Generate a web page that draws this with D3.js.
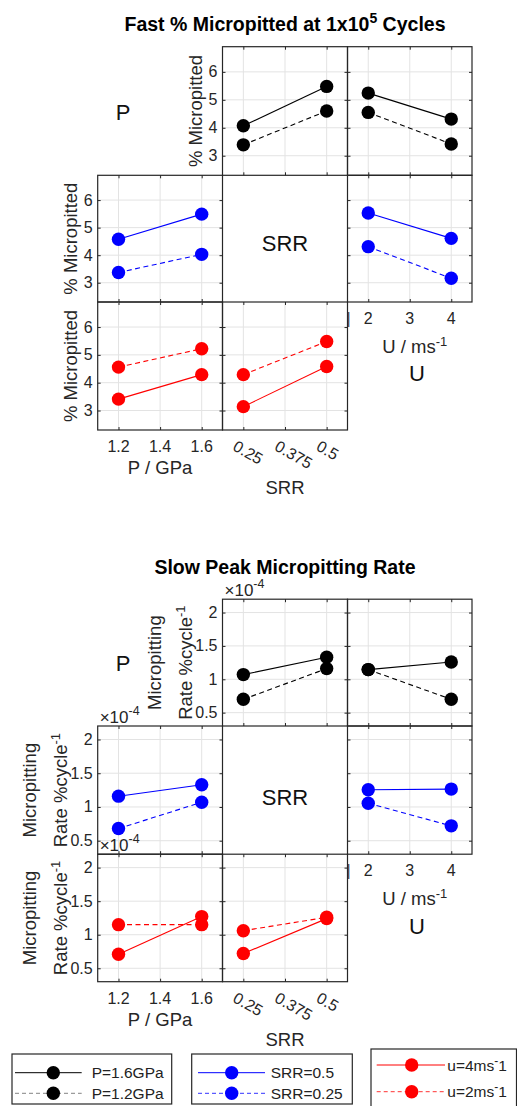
<!DOCTYPE html>
<html><head><meta charset="utf-8">
<script src="https://cdn.jsdelivr.net/npm/d3@7"></script>
<style>body{margin:0;background:#fff}svg{display:block}text{font-family:"Liberation Sans",Arial,sans-serif}</style>
</head><body><div id="c"></div>
<script>
// ---- data ----
const pLevels = [1.2, 1.6];
const srrLevels = [0.25, 0.5];
const uLevels = [2, 4];
const pTicks = [1.2, 1.4, 1.6];
const srrTicks = [0.25, 0.375, 0.5];
const uTicks = [2, 3, 4];
const fastYTicks = [3, 4, 5, 6];
const slowYTicks = [0.5e-4, 1e-4, 1.5e-4, 2e-4];

// Fast % micropitted at 1e5 cycles
const fastP16_vsSRR = [4.07, 5.48], fastP12_vsSRR = [3.39, 4.60];
const fastP16_vsU = [5.24, 4.31], fastP12_vsU = [4.55, 3.42];
const fastSRR05_vsP = [4.58, 5.49], fastSRR025_vsP = [3.37, 4.03];
const fastSRR05_vsU = [5.53, 4.61], fastSRR025_vsU = [4.31, 3.16];
const fastU4_vsP = [3.41, 4.29], fastU2_vsP = [4.56, 5.22];
const fastU4_vsSRR = [3.14, 4.58], fastU2_vsSRR = [4.29, 5.48];

// Slow peak micropitting rate (%/cycle)
const slowP16_vsSRR = [1.07e-4, 1.33e-4], slowP12_vsSRR = [0.70e-4, 1.16e-4];
const slowP16_vsU = [1.145e-4, 1.26e-4], slowP12_vsU = [1.145e-4, 0.70e-4];
const slowSRR05_vsP = [1.16e-4, 1.33e-4], slowSRR025_vsP = [0.68e-4, 1.07e-4];
const slowSRR05_vsU = [1.255e-4, 1.265e-4], slowSRR025_vsU = [1.055e-4, 0.72e-4];
const slowU4_vsP = [0.71e-4, 1.27e-4], slowU2_vsP = [1.15e-4, 1.15e-4];
const slowU4_vsSRR = [0.72e-4, 1.24e-4], slowU2_vsSRR = [1.06e-4, 1.26e-4];

const diagLabels = ["P", "SRR", "U"];
const legendP = ["P=1.6GPa", "P=1.2GPa"];
const legendSRR = ["SRR=0.5", "SRR=0.25"];
const legendU = ["u=4ms", "u=2ms"];

// ---- layout ----
const W = 517, H = 1106;
const colX = [97.7, 222.5, 347.5, 472];
const BLACK = "#000", BLUE = "#0000ff", RED = "#ff0000";
const AX = "#262626", GRID = "#e3e3e3";
const TICKF = 16, LABF = 18.5;

const svg = d3.select("#c").append("svg").attr("width", W).attr("height", H);
svg.append("rect").attr("width", W).attr("height", H).attr("fill", "#fff");

const xInfo = {
  p: {domain: [1.1, 1.7], levels: pLevels, ticks: pTicks},
  srr: {domain: [0.1875, 0.5625], levels: srrLevels, ticks: srrTicks},
  u: {domain: [1.5, 4.5], levels: uLevels, ticks: uTicks}
};
const colVar = ["p", "srr", "u"];

function drawChart(cfg) {
  const rows = cfg.rows;
  const g = svg.append("g");
  const xs = colVar.map((v, i) => d3.scaleLinear().domain(xInfo[v].domain).range([colX[i], colX[i + 1]]));
  const ysc = [0, 1, 2].map(r => d3.scaleLinear().domain(cfg.yDomain).range([rows[r + 1], rows[r]]));

  // title
  const t = g.append("text").attr("x", 285).attr("y", cfg.titleY).attr("text-anchor", "middle")
    .attr("font-size", 19.5).attr("font-weight", "bold").attr("fill", "#000");
  cfg.title(t);

  // panels
  cfg.panels.forEach(pn => {
    const x = xs[pn.col], y = ysc[pn.row];
    const info = xInfo[colVar[pn.col]];
    const pg = g.append("g");
    const [x0, x1] = x.range();
    const [yb, yt] = y.range();
    // grid
    pg.selectAll(".gx").data(info.ticks).join("line")
      .attr("x1", d => x(d)).attr("x2", d => x(d)).attr("y1", yt).attr("y2", yb)
      .attr("stroke", GRID).attr("stroke-width", 1);
    pg.selectAll(".gy").data(cfg.yTicks).join("line")
      .attr("y1", d => y(d)).attr("y2", d => y(d)).attr("x1", x0).attr("x2", x1)
      .attr("stroke", GRID).attr("stroke-width", 1);
    // axes with inward ticks (all sides)
    const tl = 3;
    pg.append("g").attr("transform", `translate(0,${yt})`)
      .call(d3.axisBottom(x).tickValues(info.ticks).tickSize(tl).tickFormat(""))
      .call(a => a.select(".domain").remove()).selectAll("line").attr("stroke", AX);
    pg.append("g").attr("transform", `translate(0,${yb})`)
      .call(d3.axisTop(x).tickValues(info.ticks).tickSize(tl).tickFormat(""))
      .call(a => a.select(".domain").remove()).selectAll("line").attr("stroke", AX);
    pg.append("g").attr("transform", `translate(${x0},0)`)
      .call(d3.axisRight(y).tickValues(cfg.yTicks).tickSize(tl).tickFormat(""))
      .call(a => a.select(".domain").remove()).selectAll("line").attr("stroke", AX);
    pg.append("g").attr("transform", `translate(${x1},0)`)
      .call(d3.axisLeft(y).tickValues(cfg.yTicks).tickSize(tl).tickFormat(""))
      .call(a => a.select(".domain").remove()).selectAll("line").attr("stroke", AX);
    // series
    const line = d3.line().x((d, i) => x(info.levels[i])).y(d => y(d));
    pn.series.forEach(s => {
      pg.append("path").datum(s.vals).attr("d", line).attr("fill", "none")
        .attr("stroke", s.color).attr("stroke-width", 1.1)
        .attr("stroke-dasharray", s.dashed ? "5,3.5" : null);
    });
    pn.series.forEach(s => {
      pg.selectAll(null).data(s.vals).join("circle")
        .attr("cx", (d, i) => x(info.levels[i])).attr("cy", d => y(d)).attr("r", 6.7)
        .attr("fill", s.color);
    });
    // box
    pg.append("rect").attr("x", x0).attr("y", yt).attr("width", x1 - x0).attr("height", yb - yt)
      .attr("fill", "none").attr("stroke", AX).attr("stroke-width", 1.2);
    // y tick labels
    if (pn.yLabels) {
      pg.selectAll(null).data(cfg.yTicks).join("text")
        .attr("x", x0 - 5).attr("y", d => y(d) + 5.5).attr("text-anchor", "end")
        .attr("font-size", TICKF).attr("fill", AX).text(cfg.yFmt);
      cfg.yLabel(pg, x0, (yb + yt) / 2, yt);
    }
    // x tick labels
    if (pn.xLabels) {
      const v = colVar[pn.col];
      if (v === "srr") {
        pg.selectAll(null).data(info.ticks).join("text")
          .attr("transform", d => `translate(${x(d) - 11.5},${yb + 19.5}) rotate(30)`)
          .attr("font-size", TICKF).attr("fill", AX).text(d => d);
        pg.append("text").attr("x", (x0 + x1) / 2).attr("y", yb + 64).attr("text-anchor", "middle")
          .attr("font-size", LABF).attr("fill", AX).text("SRR");
      } else {
        pg.selectAll(null).data(info.ticks).join("text")
          .attr("x", d => x(d)).attr("y", yb + 22).attr("text-anchor", "middle")
          .attr("font-size", TICKF).attr("fill", AX).text(d => d);
        if (v === "u") {
          pg.append("text").attr("x", x0 + 1).attr("y", yb + 22).attr("text-anchor", "middle")
            .attr("font-size", TICKF).attr("fill", "#444").text("|");
          const ut = pg.append("text").attr("x", (x0 + x1) / 2 + 5).attr("y", yb + 51).attr("text-anchor", "middle")
            .attr("font-size", LABF).attr("fill", AX);
          ut.append("tspan").text("U / ms");
          ut.append("tspan").attr("dy", -7).attr("font-size", 13).text("-1");
        } else {
          pg.append("text").attr("x", (x0 + x1) / 2).attr("y", yb + 44).attr("text-anchor", "middle")
            .attr("font-size", LABF).attr("fill", AX).text("P / GPa");
        }
      }
    }
  });

  // diagonal labels
  diagLabels.forEach((lab, i) => {
    g.append("text").attr("x", cfg.diagPos[i][0]).attr("y", cfg.diagPos[i][1])
      .attr("text-anchor", "middle").attr("font-size", 22).attr("fill", "#111").text(lab);
  });
}

function seriesSet(a, b, color) {
  return [{vals: a, dashed: false, color}, {vals: b, dashed: true, color}];
}

// ---- chart 1 ----
drawChart({
  rows: [46.7, 175.3, 302, 430],
  titleY: 31,
  diagPos: [[123, 120], [285, 251], [417, 381]],
  title: t => {
    t.append("tspan").text("Fast % Micropitted at 1x10");
    t.append("tspan").attr("dy", -8).attr("font-size", 14).text("5");
    t.append("tspan").attr("dy", 8).text(" Cycles");
  },
  yDomain: [2.3, 6.9],
  yTicks: fastYTicks,
  yFmt: d => d,
  yLabel: (pg, x0, cy) => {
    pg.append("text").attr("transform", `translate(${x0 - 21},${cy}) rotate(-90)`)
      .attr("text-anchor", "middle").attr("font-size", LABF).attr("fill", AX).text("% Micropitted");
  },
  panels: [
    {col: 1, row: 0, yLabels: true, series: seriesSet(fastP16_vsSRR, fastP12_vsSRR, BLACK)},
    {col: 2, row: 0, series: seriesSet(fastP16_vsU, fastP12_vsU, BLACK)},
    {col: 0, row: 1, yLabels: true, series: seriesSet(fastSRR05_vsP, fastSRR025_vsP, BLUE)},
    {col: 2, row: 1, xLabels: true, series: seriesSet(fastSRR05_vsU, fastSRR025_vsU, BLUE)},
    {col: 0, row: 2, yLabels: true, xLabels: true, series: seriesSet(fastU4_vsP, fastU2_vsP, RED)},
    {col: 1, row: 2, xLabels: true, series: seriesSet(fastU4_vsSRR, fastU2_vsSRR, RED)}
  ]
});

// ---- chart 2 ----
drawChart({
  rows: [599.2, 726, 854.2, 981.7],
  titleY: 574,
  diagPos: [[123, 671], [285, 805], [417, 934]],
  title: t => t.text("Slow Peak Micropitting Rate"),
  yDomain: [0.3e-4, 2.2e-4],
  yTicks: slowYTicks,
  yFmt: d => d3.format("~g")(Math.round(d * 1e5) / 10),
  yLabel: (pg, x0, cy, ytop) => {
    pg.append("text").attr("transform", `translate(${x0 - 62},${cy}) rotate(-90)`)
      .attr("text-anchor", "middle").attr("font-size", LABF).attr("fill", AX).text("Micropitting");
    const r = pg.append("text").attr("transform", `translate(${x0 - 31},${cy}) rotate(-90)`)
      .attr("text-anchor", "middle").attr("font-size", LABF).attr("fill", AX);
    r.append("tspan").text("Rate %cycle");
    r.append("tspan").attr("dy", -7).attr("font-size", 13).text("-1");
    const e = pg.append("text").attr("x", x0 + 2).attr("y", ytop - 3).attr("font-size", TICKF + 1).attr("fill", AX);
    e.append("tspan").text("\u00d710");
    e.append("tspan").attr("dy", -8).attr("font-size", 12.5).text("-4");
  },
  panels: [
    {col: 1, row: 0, yLabels: true, series: seriesSet(slowP16_vsSRR, slowP12_vsSRR, BLACK)},
    {col: 2, row: 0, series: seriesSet(slowP16_vsU, slowP12_vsU, BLACK)},
    {col: 0, row: 1, yLabels: true, series: seriesSet(slowSRR05_vsP, slowSRR025_vsP, BLUE)},
    {col: 2, row: 1, xLabels: true, series: seriesSet(slowSRR05_vsU, slowSRR025_vsU, BLUE)},
    {col: 0, row: 2, yLabels: true, xLabels: true, series: seriesSet(slowU4_vsP, slowU2_vsP, RED)},
    {col: 1, row: 2, xLabels: true, series: seriesSet(slowU4_vsSRR, slowU2_vsSRR, RED)}
  ]
});

// ---- legends ----
function legend(box, rowsY, lineX, markX, textX, labels, color, sup) {
  const g = svg.append("g");
  g.append("rect").attr("x", box[0]).attr("y", box[1]).attr("width", box[2]).attr("height", box[3])
    .attr("fill", "#fff").attr("stroke", AX).attr("stroke-width", 1.2);
  labels.forEach((lab, i) => {
    const y = rowsY[i];
    g.append("line").attr("x1", lineX[0]).attr("x2", lineX[1]).attr("y1", y).attr("y2", y)
      .attr("stroke", i === 0 ? color : (color === BLACK ? "#666" : color)).attr("stroke-width", 1)
      .attr("stroke-dasharray", i === 1 ? "4,3" : null).attr("opacity", i === 1 ? 0.8 : 1);
    g.append("circle").attr("cx", markX).attr("cy", y).attr("r", 6.7).attr("fill", color);
    const t = g.append("text").attr("x", textX).attr("y", y + 5.5).attr("font-size", 15.5).attr("fill", "#222");
    t.append("tspan").text(lab);
    if (sup) {
      t.append("tspan").attr("dy", -6).attr("font-size", 12).text("-");
      t.append("tspan").attr("dy", 6).text("1");
    }
  });
}
legend([12, 1054, 159.7, 50], [1072.7, 1093.3], [15, 81.7], 53.3, 91.7, legendP, BLACK, false);
legend([191.7, 1054, 160.6, 50], [1072.7, 1093.3], [198, 265], 231.7, 270.7, legendSRR, BLUE, false);
legend([371, 1049, 145.5, 62], [1065, 1091.7], [376.7, 445], 411.7, 447.3, legendU, RED, true);
</script>
</body></html>
